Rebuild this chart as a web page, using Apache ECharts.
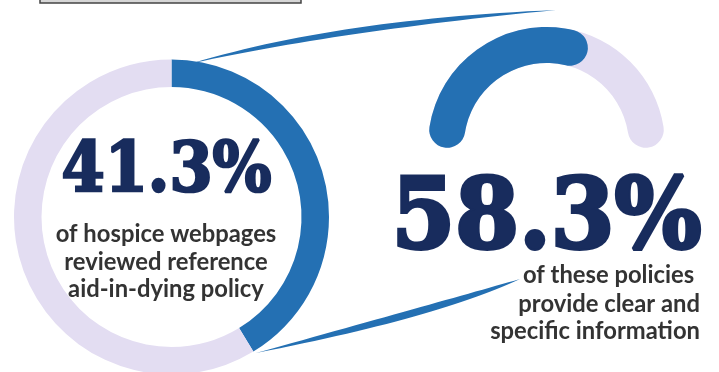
<!DOCTYPE html>
<html><head><meta charset="utf-8">
<script src="https://cdn.jsdelivr.net/npm/echarts@6/dist/echarts.min.js"></script>
<style>html,body{margin:0;padding:0;background:#fff}#c{width:719px;height:372px}</style>
</head><body><div id="c"></div>
<script>
// ---- data ----
const donutCategories = ['Reference aid-in-dying policy', 'Do not reference'];
const donutValues = [41.3, 58.7];
const gaugeCategories = ['Clear and specific information'];
const gaugeValues = [58.3];
const gaugeMax = 100;
const leftCaption = ['of hospice webpages', 'reviewed reference', 'aid-in-dying policy'];
const rightCaption = ['of these policies ', 'provide clear and', 'specific information'];

// ---- style ----
const BLUE = '#2470b3', LAV = '#e3ddf2', NAVY = '#182c5d', GREY = '#333333';
const chart = echarts.init(document.getElementById('c'), null, {renderer: 'canvas'});
const ctx = document.createElement('canvas').getContext('2d');
function ink(text, font) {
  ctx.font = font; ctx.textBaseline = 'middle'; ctx.textAlign = 'left';
  const m = ctx.measureText(text);
  return {l: m.actualBoundingBoxLeft, r: m.actualBoundingBoxRight, a: m.actualBoundingBoxAscent, d: m.actualBoundingBoxDescent};
}
function bigNumber(text, box) {
  const fam = '"DejaVu Serif"';
  const lw = (box[3] - box[1]) * 0.05;
  const b = [box[0] + lw / 2, box[1] + lw / 2, box[2] - lw / 2, box[3] - lw / 2];
  let fs = 100;
  let m = ink(text, `bold ${fs}px ${fam}`);
  fs = fs * (b[3] - b[1]) / (m.a + m.d);
  const font = `bold ${fs}px ${fam}`;
  m = ink(text, font);
  const sx = (b[2] - b[0]) / (m.l + m.r);
  return {type: 'text', x: b[0], y: b[1] + m.a, scaleX: sx, silent: true, z: 10,
    style: {text, x: m.l, y: 0, font, fill: NAVY, stroke: NAVY, lineWidth: lw, lineJoin: 'round',
      align: 'left', textAlign: 'left', verticalAlign: 'middle', textVerticalAlign: 'middle'}};
}
const bodyFam = 'Lato';
let bfs = 20;
{ const m = ink(leftCaption[0], `bold ${bfs}px ${bodyFam}`); bfs = bfs * 221 / (m.l + m.r); }
const bodyFont = `bold ${bfs}px ${bodyFam}`;
const xDesc = ink('x', bodyFont).d;
function caption(lines, x, baselines, align) {
  return lines.map((t, i) => ({type: 'text', x: x, y: baselines[i] - xDesc, silent: true, z: 10,
    style: {text: t, font: bodyFont, fill: GREY, align, textAlign: align, verticalAlign: 'middle', textVerticalAlign: 'middle'}}));
}
function wedge(p0, c1, c2, p2, n) {
  const q = (a, b, c, t) => (1 - t) * (1 - t) * a + 2 * (1 - t) * t * b + t * t * c;
  const pts = [];
  for (let i = 0; i <= n; i++) { const t = i / n; pts.push([q(p0[0], c1[0], p2[0], t), q(p0[1], c1[1], p2[1], t)]); }
  for (let i = n; i >= 0; i--) { const t = i / n; pts.push([q(p0[0], c2[0], p2[0], t), q(p0[1], c2[1], p2[1], t)]); }
  return {type: 'polygon', silent: true, z: 1, shape: {points: pts}, style: {fill: BLUE}};
}

const option = {
  animation: false,
  series: [
    {
      type: 'pie', silent: true, center: [171.5, 217], radius: [130, 157.5],
      startAngle: 90, clockwise: true, label: {show: false}, labelLine: {show: false},
      emphasis: {disabled: true}, itemStyle: {borderWidth: 0},
      data: donutCategories.map((n, i) => ({name: n, value: donutValues[i], itemStyle: {color: i === 0 ? BLUE : LAV}}))
    },
    {
      type: 'gauge', silent: true, center: [546.5, 145.5], radius: 118.5,
      startAngle: 171, endAngle: 9, min: 0, max: gaugeMax,
      axisLine: {roundCap: true, lineStyle: {width: 36, color: [[1, LAV]]}},
      progress: {show: true, width: 36, roundCap: true, itemStyle: {color: BLUE}},
      pointer: {show: false}, anchor: {show: false}, axisTick: {show: false}, splitLine: {show: false},
      axisLabel: {show: false}, title: {show: false}, detail: {show: false},
      data: gaugeCategories.map((n, i) => ({name: n, value: gaugeValues[i]}))
    }
  ],
  graphic: [
    {type: 'rect', silent: true, shape: {x: 40, y: -20, width: 261, height: 23}, style: {fill: '#d6d6d6', stroke: '#444', lineWidth: 1.5}},
    wedge([193, 63], [340, 19], [340, 31], [556, 10], 30),
    wedge([256, 353], [436, 303], [440, 317], [520, 279], 30),
    bigNumber(donutValues[0] + '%', [62, 138, 272, 192]),
    bigNumber(gaugeValues[0] + '%', [397, 173, 702, 250]),
    ...caption(leftCaption, 166, [242, 269.5, 297], 'center'),
    ...caption(rightCaption, 700, [283, 311.5, 338.5], 'right')
  ]
};
chart.setOption(option);
</script>
</body></html>
